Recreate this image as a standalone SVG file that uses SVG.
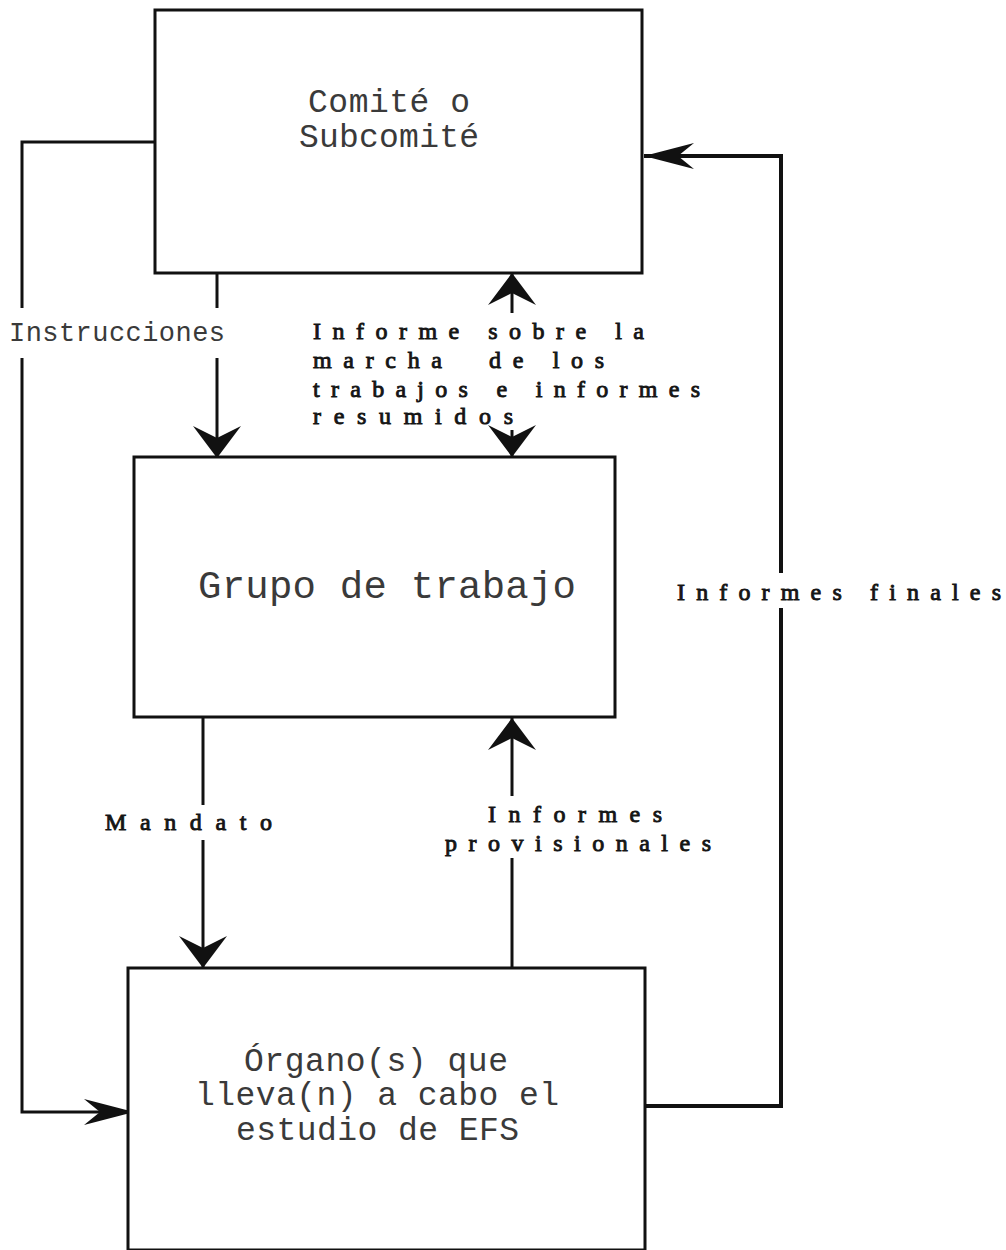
<svg xmlns="http://www.w3.org/2000/svg" width="1006" height="1250" viewBox="0 0 1006 1250">
  <style>
    .box { fill: #fff; stroke: #111; stroke-width: 3; }
    .wire { fill: none; stroke: #111; stroke-width: 3; }
    .wire.heavy { stroke-width: 4; }
    .mono { font-family: "Liberation Mono", "DejaVu Sans Mono", monospace; fill: #3a3a3a; }
    .spaced { font-family: "Liberation Serif", "DejaVu Serif", serif; font-size: 24px; fill: #151515; stroke: #151515; stroke-width: 0.9; }
  </style>
  <defs>
    <!-- wide barbed head for the vertical flows -->
    <marker id="headWide" markerUnits="userSpaceOnUse" viewBox="-34 -26 36 52" refX="0" refY="0" markerWidth="36" markerHeight="52" orient="auto">
      <path d="M0,0 L-32,-24 L-20,0 L-32,24 Z" fill="#111"/>
    </marker>
    <!-- slim barbed head for the horizontal flows -->
    <marker id="headSlim" markerUnits="userSpaceOnUse" viewBox="-52 -15 54 30" refX="0" refY="0" markerWidth="54" markerHeight="30" orient="auto">
      <path d="M0,0 L-50,-13 L-34,0 L-50,13 Z" fill="#111"/>
    </marker>
  </defs>
  <rect width="1006" height="1250" fill="#fff"/>

  <g id="connectors">
    <!-- Instrucciones: committee to working group -->
    <line class="wire" x1="217" y1="273" x2="217" y2="308"/>
    <line class="wire" x1="217" y1="358" x2="217" y2="458" marker-end="url(#headWide)"/>
    <!-- progress reports: two-way between committee and working group -->
    <line class="wire" x1="512" y1="313" x2="512" y2="273" marker-end="url(#headWide)"/>
    <line class="wire" x1="512" y1="430" x2="512" y2="457" marker-end="url(#headWide)"/>
    <!-- Mandato: working group to study body -->
    <line class="wire" x1="203" y1="717" x2="203" y2="805"/>
    <line class="wire" x1="203" y1="840" x2="203" y2="968" marker-end="url(#headWide)"/>
    <!-- interim reports: study body to working group -->
    <line class="wire" x1="512" y1="968" x2="512" y2="858"/>
    <line class="wire" x1="512" y1="796" x2="512" y2="718" marker-end="url(#headWide)"/>
    <!-- direct instructions loop on the left, broken by its label -->
    <polyline class="wire" points="155,142 22,142 22,308"/>
    <polyline class="wire" points="22,358 22,1112 134,1112" marker-end="url(#headSlim)"/>
    <!-- final reports loop on the right -->
    <polyline class="wire heavy" points="645,1106 781,1106 781,608"/>
    <polyline class="wire heavy" points="781,573 781,156 644,156" marker-end="url(#headSlim)"/>
  </g>

  <g id="comite">
    <rect class="box" x="155" y="10" width="487" height="263"/>
    <text class="mono" font-size="33" x="308" y="112" textLength="162" lengthAdjust="spacing">Comité o</text>
    <text class="mono" font-size="33" x="299" y="147" textLength="180" lengthAdjust="spacing">Subcomité</text>
  </g>

  <g id="grupo">
    <rect class="box" x="134" y="457" width="481" height="260"/>
    <text class="mono" font-size="39" x="198" y="598" textLength="378" lengthAdjust="spacing">Grupo de trabajo</text>
  </g>

  <g id="organo">
    <rect class="box" x="128" y="968" width="517" height="282"/>
    <text class="mono" font-size="33" x="244" y="1071" textLength="264" lengthAdjust="spacing">Órgano(s) que</text>
    <text class="mono" font-size="33" x="195" y="1105" textLength="364" lengthAdjust="spacing">lleva(n) a cabo el</text>
    <text class="mono" font-size="33" x="236" y="1140" textLength="283" lengthAdjust="spacing">estudio de EFS</text>
  </g>

  <g id="labels">
    <text class="mono" font-size="27" x="9" y="341" textLength="216" lengthAdjust="spacing">Instrucciones</text>
    <text class="spaced" x="313" y="339" textLength="331" lengthAdjust="spacing">Informe sobre la</text>
    <text class="spaced" x="313" y="368" textLength="291" lengthAdjust="spacing" xml:space="preserve">marcha  de los</text>
    <text class="spaced" x="313" y="397" textLength="387" lengthAdjust="spacing">trabajos e informes</text>
    <text class="spaced" x="313" y="424" textLength="200" lengthAdjust="spacing">resumidos</text>
    <text class="spaced" x="105" y="830" textLength="167" lengthAdjust="spacing">Mandato</text>
    <text class="spaced" x="488" y="822" textLength="174" lengthAdjust="spacing">Informes</text>
    <text class="spaced" x="445" y="851" textLength="266" lengthAdjust="spacing">provisionales</text>
    <text class="spaced" x="677" y="600" textLength="324" lengthAdjust="spacing">Informes finales</text>
  </g>
</svg>
